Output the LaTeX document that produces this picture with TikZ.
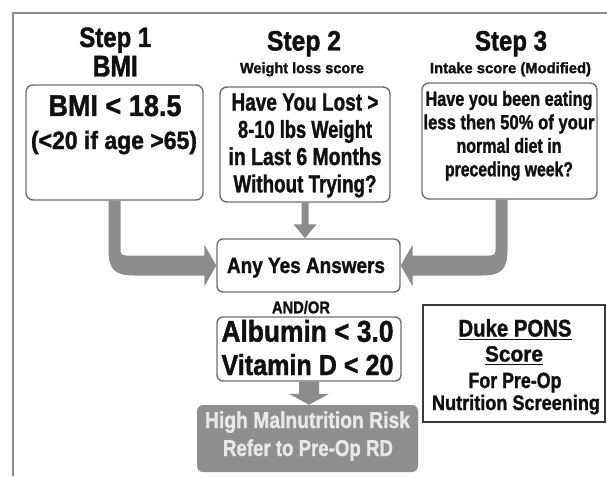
\documentclass[tikz,border=0pt]{standalone}
\usepackage{fontspec}
\usepackage{graphicx}
\usetikzlibrary{calc}
\newfontfamily\hvb[FakeBold=1.5]{Liberation Sans Bold}
\newcommand\twd[3]{\resizebox{#1pt}{\height}{\fontsize{#2}{#2}\selectfont\hvb #3}}
\definecolor{boxgray}{HTML}{6F6F6F}
\definecolor{arrowgray}{HTML}{8C8C8C}
\definecolor{framegray}{HTML}{8A8A8A}
\definecolor{highfill}{HTML}{8F8F8F}
\definecolor{hightext}{HTML}{E8E8E8}
\definecolor{ink}{HTML}{101010}
\definecolor{dukeborder}{HTML}{3C3C3C}
\tikzset{
  rbox/.style={draw=boxgray, line width=1.4pt, rounded corners=7pt, fill=white, inner sep=0pt},
  hbox/.style={fill=highfill, rounded corners=6pt, inner sep=0pt},
  dbox/.style={draw=dukeborder, line width=2.2pt, fill=white, inner sep=0pt},
  txt/.style={inner sep=0pt, outer sep=0pt, anchor=base, text=ink},
  wtxt/.style={inner sep=0pt, outer sep=0pt, anchor=base, text=hightext},
  agray/.style={fill=arrowgray},
}
\begin{document}
\begin{tikzpicture}[x=1pt,y=-1pt]
\useasboundingbox[fill=white] (0,0) rectangle (607,476);
% frame
\draw[framegray, line width=1.5pt] (13,476) -- (13,13) -- (607,13);

% boxes
\node[rbox, minimum width=177pt, minimum height=115pt] (b1) at (114.5,142.5) {};
\node[rbox, minimum width=170pt, minimum height=115pt] (b2) at (305,144.5) {};
\node[rbox, minimum width=175pt, minimum height=116pt] (b3) at (509.5,141) {};
\node[rbox, rounded corners=6pt, minimum width=183pt, minimum height=53pt] (any) at (308.5,265.5) {};
\node[rbox, rounded corners=6pt, minimum width=184pt, minimum height=64pt] (alb) at (309,349) {};
\node[hbox, minimum width=221pt, minimum height=67pt] (high) at (307.5,438.5) {};
\node[dbox, minimum width=182pt, minimum height=117pt] (duke) at (514,363.5) {};

% helper coordinates
\coordinate (lc) at (b1.south |- any.west);
\coordinate (rs) at ($(b3.south)+(-8,0)$);
\coordinate (rc) at (rs |- any.east);
\coordinate (mt) at (b2.south |- any.north);
\coordinate (bt) at (alb.south |- high.north);

% left bent arrow
\fill[agray] ($(b1.south)+(-6,0)$)
  -- ($(lc)+(-6,-16)$)
  .. controls ($(lc)+(-6,4)$) and ($(lc)+(0,10)$) .. ($(lc)+(20,10)$)
  -- ($(any.west)+(-12,10)$) -- ($(any.west)+(-12,21)$)
  -- (any.west)
  -- ($(any.west)+(-12,-21)$) -- ($(any.west)+(-12,-10)$)
  -- ($(lc)+(12,-10)$)
  .. controls ($(lc)+(7,-10)$) and ($(lc)+(6,-12)$) .. ($(lc)+(6,-16)$)
  -- ($(b1.south)+(6,0)$) -- cycle;

% right bent arrow
\fill[agray] ($(rs)+(6,0)$)
  -- ($(rc)+(6,-16)$)
  .. controls ($(rc)+(6,4)$) and ($(rc)+(0,10)$) .. ($(rc)+(-20,10)$)
  -- ($(any.east)+(12,10)$) -- ($(any.east)+(12,21)$)
  -- (any.east)
  -- ($(any.east)+(12,-21)$) -- ($(any.east)+(12,-10)$)
  -- ($(rc)+(-12,-10)$)
  .. controls ($(rc)+(-7,-10)$) and ($(rc)+(-6,-12)$) .. ($(rc)+(-6,-16)$)
  -- ($(rs)+(-6,0)$) -- cycle;

% small arrow step 2 -> any
\fill[agray] ($(b2.south)+(-3.5,0)$) -- ($(mt)+(-3.5,-14)$) -- ($(mt)+(-11.5,-14)$)
  -- (mt) -- ($(mt)+(11.5,-14)$) -- ($(mt)+(3.5,-14)$) -- ($(b2.south)+(3.5,0)$) -- cycle;

% big arrow albumin -> high
\fill[agray] ($(alb.south)+(-10,0)$) -- ($(bt)+(-10,-11)$) -- ($(bt)+(-20,-11)$)
  -- (bt) -- ($(bt)+(20,-11)$) -- ($(bt)+(10,-11)$) -- ($(alb.south)+(10,0)$) -- cycle;

% titles
\node[txt] (s1) at (115.3,47) {\twd{72}{28}{Step 1}};
\node[txt] (s1b) at (115.3,76.5) {\twd{45}{30}{BMI}};
\node[txt] (s2) at (304,50.5) {\twd{74}{28}{Step 2}};
\node[txt] (s2b) at (302,73.2) {\twd{124}{15}{Weight loss score}};
\node[txt] (s3) at (511,50.5) {\twd{72}{28}{Step 3}};
\node[txt] (s3b) at (510.5,73.2) {\twd{161}{15}{Intake score (Modified)}};

% box 1
\node[txt] (l11) at (115,116) {\twd{133}{30}{BMI < 18.5}};
\node[txt] (l12) at (114,149) {\twd{166}{25}{(<20 if age >65)}};

% box 2
\node[txt] (l21) at (305,110.5) {\twd{147}{24.5}{Have You Lost >}};
\node[txt] (l22) at (305,137.8) {\twd{134}{24.5}{8-10 lbs Weight}};
\node[txt] (l23) at (305,165) {\twd{153}{24.5}{in Last 6 Months}};
\node[txt] (l24) at (305,192.3) {\twd{143}{24.5}{Without Trying?}};

% box 3
\node[txt] (l31) at (509,105.8) {\twd{167}{20.5}{Have you been eating}};
\node[txt] (l32) at (509,129.3) {\twd{171}{20.5}{less then 50\% of your}};
\node[txt] (l33) at (509,152.8) {\twd{105}{20.5}{normal diet in}};
\node[txt] (l34) at (509,176.3) {\twd{128}{20.5}{preceding week?}};

% middle
\node[txt] (anyt) at (306,273) {\twd{158}{22}{Any Yes Answers}};
\node[txt] (andor) at (301,313.3) {\twd{58}{17}{AND/OR}};
\node[txt] (alb1) at (307.5,341.7) {\twd{172}{30}{Albumin < 3.0}};
\node[txt] (alb2) at (307.5,375) {\twd{172}{29}{Vitamin D < 20}};
\node[wtxt] (h1) at (307.5,428) {\twd{205}{23}{High Malnutrition Risk}};
\node[wtxt] (h2) at (308,456) {\twd{170}{23}{Refer to Pre-Op RD}};

% duke
\node[txt] (d1) at (515,336.5) {\twd{113}{24}{Duke PONS}};
\node[txt] (d2) at (514,361.5) {\twd{58}{22}{Score}};
\node[txt] (d3) at (515,388) {\twd{93}{22}{For Pre-Op}};
\node[txt] (d4) at (516,410) {\twd{168}{21}{Nutrition Screening}};
\draw[ink, line width=1.8pt] ($(d1.base west)+(0,3)$) -- ($(d1.base east)+(0,3)$);
\draw[ink, line width=1.8pt] ($(d2.base west)+(0,3)$) -- ($(d2.base east)+(0,3)$);
\end{tikzpicture}
\end{document}
